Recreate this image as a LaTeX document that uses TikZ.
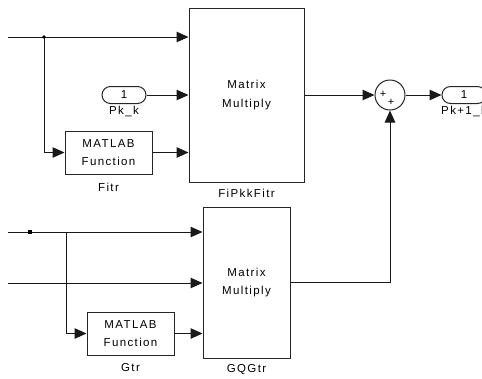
\documentclass[tikz,border=0pt]{standalone}
\usepackage{fontspec}
\setmainfont{Liberation Sans}[LetterSpace=12]
\usetikzlibrary{arrows.meta}
\tikzset{
  blk/.style={draw=black!85, line width=1pt, fill=white, inner sep=0pt, align=center, font=\fontsize{11.5}{18.5}\selectfont},
  port/.style={draw=black!85, line width=1pt, rounded corners=8.5pt, minimum width=44pt, minimum height=17pt, inner sep=0pt, font=\fontsize{11.5}{12}\selectfont},
  lbl/.style={inner sep=0pt, font=\fontsize{11.5}{12}\selectfont},
  sig/.style={-{Triangle[length=12pt,width=10.5pt]}, line width=1pt, draw=black!90},
  sgn/.style={inner sep=0pt, font=\fontsize{11}{11}\selectfont}
}
\begin{document}
\begin{tikzpicture}[x=1pt,y=-1pt]
\useasboundingbox (0,0) rectangle (482,378);
\clip (0,0) rectangle (482,378);
% blocks
\node[blk, minimum width=115pt, minimum height=174pt] (mmA) at (246.5,95) {Matrix\\Multiply};
\node[blk, minimum width=87pt, minimum height=151pt] (mmB) at (246.5,282.5) {Matrix\\Multiply};
\node[blk, minimum width=87pt, minimum height=43pt] (fitr) at (108.5,152.5) {MATLAB\\Function};
\node[blk, minimum width=87pt, minimum height=43pt] (gtr) at (130.5,333.5) {MATLAB\\Function};
\node[port] (pk) at (124,95) {1};
\node[port] (out) at (464,95) {1};
\node[draw=black!85, line width=1pt, circle, minimum size=30pt, inner sep=0pt] (sum) at (390,95) {};
\node[sgn] (p1) at (383,94) {+};
\node[sgn] (p2) at (391,102) {+};
% labels
\node[lbl, anchor=north] (lpk) at (124,106) {Pk\_k};
\node[lbl, anchor=north] (lout) at (464,106) {Pk+1\_k};
\node[lbl] (lfitr) at (108.5,187) {Fitr};
\node[lbl] (lgtr) at (130.5,368) {Gtr};
\node[lbl] (lmmA) at (246.5,193) {FiPkkFitr};
\node[lbl] (lmmB) at (246.5,370) {GQGtr};
% coordinates
\coordinate (inA) at (8,37);
\coordinate (brA) at (44,37);
\coordinate (inB) at (8,232);
\coordinate (dotB) at (30,232);
\coordinate (brB) at (66,232);
\coordinate (inC) at (8,283);
% connectors
\draw[sig] (inA) -- (inA -| mmA.west);
\draw[sig] (brA) |- (fitr.west);
\fill[black] (brA) circle (1.8pt);
\draw[sig] (pk.east) -- (pk.east -| mmA.west);
\draw[sig] (fitr.east) -- (fitr.east -| mmA.west);
\draw[sig] (mmA.east) -- (sum.west);
\draw[sig] (sum.east) -- (out.west);
\draw[sig] (inB) -- (inB -| mmB.west);
\fill[black] ([shift={(-2,-2)}]dotB) rectangle ([shift={(2,2)}]dotB);
\draw[sig] (brB) |- (gtr.west);
\draw[sig] (inC) -- (inC -| mmB.west);
\draw[sig] (gtr.east) -- (gtr.east -| mmB.west);
\draw[sig] (mmB.east) -| (sum.south);
\end{tikzpicture}
\end{document}
